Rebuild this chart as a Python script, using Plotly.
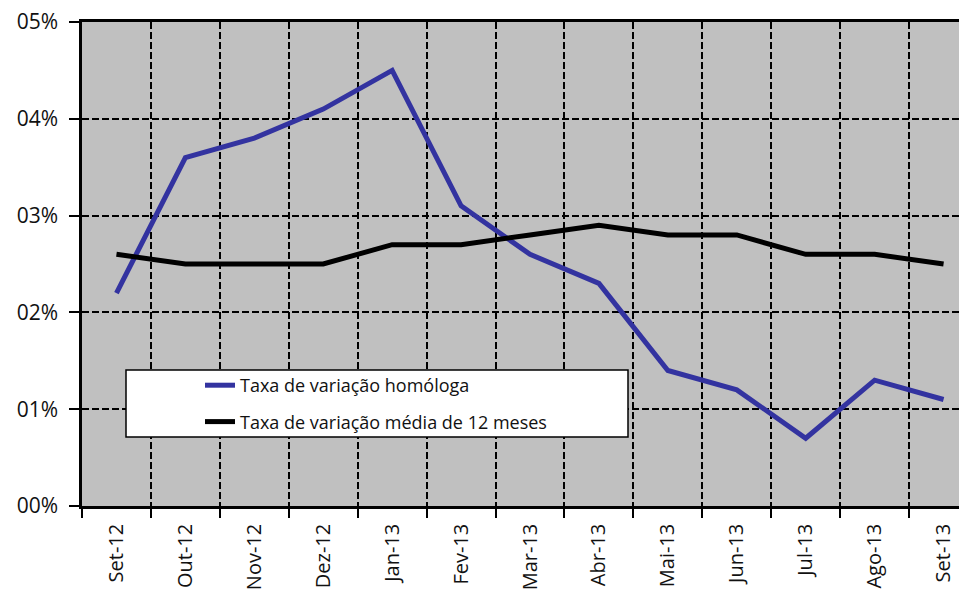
import plotly.graph_objects as go

categories = ["Set-12", "Out-12", "Nov-12", "Dez-12", "Jan-13", "Fev-13", "Mar-13",
              "Abr-13", "Mai-13", "Jun-13", "Jul-13", "Ago-13", "Set-13"]
homologa = [2.2, 3.6, 3.8, 4.1, 4.5, 3.1, 2.6, 2.3, 1.4, 1.2, 0.7, 1.3, 1.1]
media12 = [2.6, 2.5, 2.5, 2.5, 2.7, 2.7, 2.8, 2.9, 2.8, 2.8, 2.6, 2.6, 2.5]
y_tickvals = [0, 1, 2, 3, 4, 5]
y_ticktext = ["00%", "01%", "02%", "03%", "04%", "05%"]

FONT = "Open Sans"
OFF = 8  # page body offset
W, H = 967, 591
ML, MT, MR, MB = 82 - OFF, 22 - OFF, 0 + OFF, 85 + OFF
pw, ph = W - ML - MR, H - MT - MB

fig = go.Figure()
fig.add_trace(go.Scatter(x=categories, y=homologa, mode="lines",
                         name="Taxa de variação homóloga", legendgroup="a",
                         line=dict(color="#3333A0", width=5)))
fig.add_trace(go.Scatter(x=categories, y=media12, mode="lines",
                         name="Taxa de variação média de 12 meses", legendgroup="b",
                         line=dict(color="#000000", width=5)))

# convert screen pixel positions into paper coordinates
def px_x(p):
    return (p - OFF - ML) / pw

def px_y(p):
    return (H - MB - (p - OFF)) / ph

fig.add_shape(type="rect", xref="paper", yref="paper",
              x0=px_x(126), x1=px_x(628), y0=px_y(437), y1=px_y(370),
              fillcolor="white", line=dict(color="black", width=1.5), layer="above")

fig.update_layout(
    width=W, height=H,
    margin=dict(l=ML, r=MR, t=MT, b=MB),
    paper_bgcolor="white",
    plot_bgcolor="#C0C0C0",
    font=dict(family=FONT, color="#111111"),
    showlegend=True,
    legend=dict(x=px_x(200), y=px_y(367), xanchor="left", yanchor="top",
                bgcolor="rgba(0,0,0,0)", borderwidth=0,
                font=dict(size=18, family=FONT, color="#111111"),
                tracegroupgap=10, traceorder="grouped"),
    xaxis=dict(type="category", range=[-0.5, 12.34], tickson="boundaries",
               ticks="outside", ticklen=9, tickwidth=2, tickcolor="black",
               showgrid=True, gridcolor="black", griddash="7px,3px", gridwidth=1.5,
               showline=True, linecolor="black", linewidth=2.5, mirror=True,
               tickangle=-90, tickfont=dict(size=20, family=FONT, color="#111111"),
               ticklabelstandoff=7, ticklabeloverflow="allow",
               automargin=False, zeroline=False),
    yaxis=dict(range=[0, 5], tickvals=y_tickvals, ticktext=y_ticktext,
               ticks="outside", ticklen=10, tickwidth=2, tickcolor="black",
               showgrid=True, gridcolor="black", griddash="7px,3px", gridwidth=1.5,
               showline=True, linecolor="black", linewidth=2.5,
               tickfont=dict(size=21, family=FONT, color="#111111"),
               ticklabelstandoff=7, ticklabeloverflow="allow",
               automargin=False, zeroline=False),
)

fig.write_html("out.html")
